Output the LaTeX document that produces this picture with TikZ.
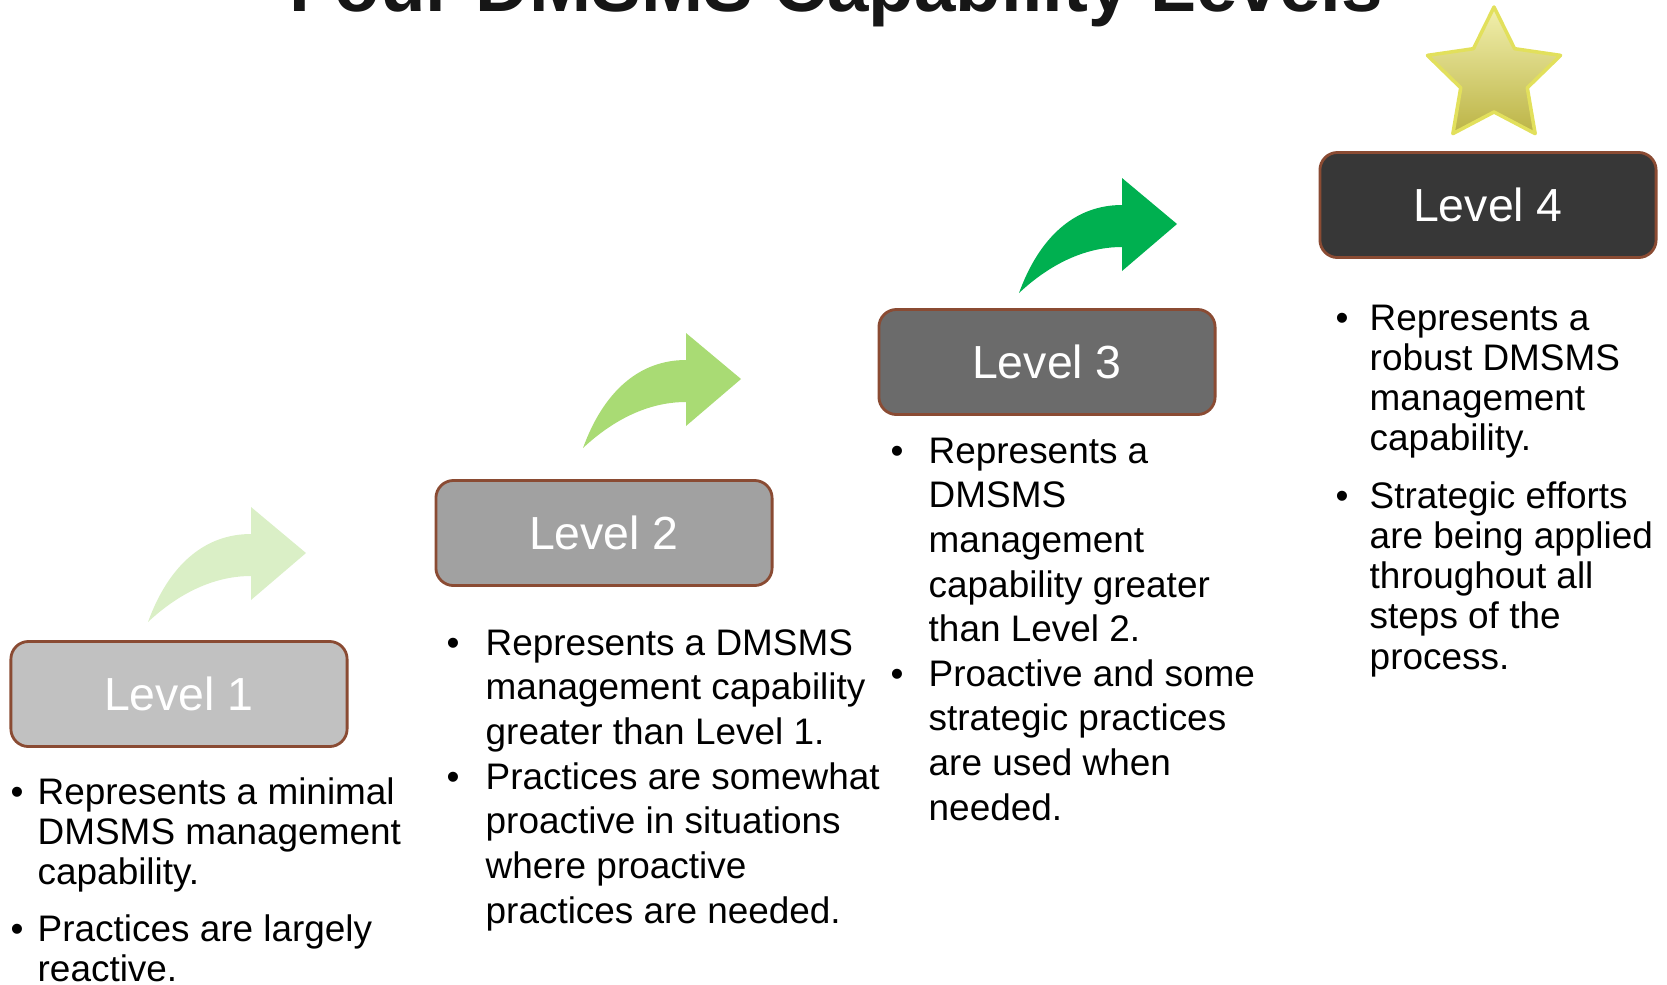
\documentclass[tikz,border=0pt]{standalone}
\usepackage{fontspec}
\setmainfont{Liberation Sans}
\usepackage{xcolor}
\usepackage{tikz}

\definecolor{boxedge}{HTML}{8A4B33}
\definecolor{lvla}{HTML}{C1C1C1}
\definecolor{lvlb}{HTML}{A1A1A1}
\definecolor{lvlc}{HTML}{6B6B6B}
\definecolor{lvld}{HTML}{373737}
\definecolor{arra}{HTML}{DAEFC6}
\definecolor{arrb}{HTML}{A9DB74}
\definecolor{arrc}{HTML}{00B050}
\definecolor{starhi}{HTML}{F2F0AE}
\definecolor{starlo}{HTML}{BCB446}
\definecolor{staredge}{HTML}{E2E05C}
\definecolor{titleink}{HTML}{161616}

\newcommand{\lines}[1]{\begin{tabular}[t]{@{}l@{}}#1\end{tabular}}

\begin{document}
\begin{tikzpicture}[x=0.01cm, y=-0.01cm,
  level/.style={draw=boxedge, line width=0.8pt, rounded corners=5pt,
    minimum width=3.36cm, minimum height=1.05cm, text=white,
    font=\fontsize{13.2}{16}\selectfont},
  tight/.style={anchor=base west, inner sep=0pt, font=\fontsize{10.5}{11.45}\selectfont},
  loose/.style={anchor=base west, inner sep=0pt, font=\fontsize{10.5}{12.7}\selectfont},
  dot/.style={anchor=base, inner sep=0pt, font=\fontsize{10.5}{12}\selectfont},
  bent/.pic={\fill[pic actions] (0,0) .. controls (20,-55) and (55,-88) .. (103,-88)
    -- (103,-115) -- (158,-69) -- (103,-22) -- (103,-46)
    .. controls (65,-46) and (30,-28) .. (0,0) -- cycle;}]
\useasboundingbox (0,0) rectangle (1667,984);
\clip (0,0) rectangle (1667,984);

\node[anchor=base, text=titleink, font=\fontsize{21.2}{25}\selectfont\bfseries] (title) at (836,11) {Four DMSMS Capability Levels};

\shade[top color=starhi, bottom color=starlo, draw=staredge, line width=1pt, line join=round]
  (1494,77) +(-90:70) -- +(-54:35) -- +(-18:70) -- +(18:35) -- +(54:70) -- +(90:35)
  -- +(126:70) -- +(162:35) -- +(198:70) -- +(234:35) -- cycle;

\node[level, fill=lvla] (lvl1) at (179,694) {Level 1};
\node[level, fill=lvlb] (lvl2) at (604,533) {Level 2};
\node[level, fill=lvlc] (lvl3) at (1047,362) {Level 3};
\node[level, fill=lvld] (lvl4) at (1488,205) {Level 4};

\pic[fill=arra] at (148,622) {bent};
\pic[fill=arrb] at (583,448) {bent};
\pic[fill=arrc] at (1019,293) {bent};

\node[dot] (d1a) at (17,804) {•};
\node[tight] (t1a) at (37,804) {\lines{Represents a minimal\\DMSMS management\\capability.}};
\node[dot] (d1b) at (17,941) {•};
\node[tight] (t1b) at (37,941) {\lines{Practices are largely\\reactive.}};

\node[dot] (d2a) at (453,655) {•};
\node[loose] (t2a) at (485,655) {\lines{Represents a DMSMS\\management capability\\greater than Level 1.}};
\node[dot] (d2b) at (453,789) {•};
\node[loose] (t2b) at (485,789) {\lines{Practices are somewhat\\proactive in situations\\where proactive\\practices are needed.}};

\node[dot] (d3a) at (897,463) {•};
\node[loose] (t3a) at (928,463) {\lines{Represents a\\DMSMS\\management\\capability greater\\than Level 2.}};
\node[dot] (d3b) at (897,686) {•};
\node[loose] (t3b) at (928,686) {\lines{Proactive and some\\strategic practices\\are used when\\needed.}};

\node[dot] (d4a) at (1342,330) {•};
\node[tight] (t4a) at (1369,330) {\lines{Represents a\\robust DMSMS\\management\\capability.}};
\node[dot] (d4b) at (1342,508) {•};
\node[tight] (t4b) at (1369,508) {\lines{Strategic efforts\\are being applied\\throughout all\\steps of the\\process.}};
\end{tikzpicture}
\end{document}
